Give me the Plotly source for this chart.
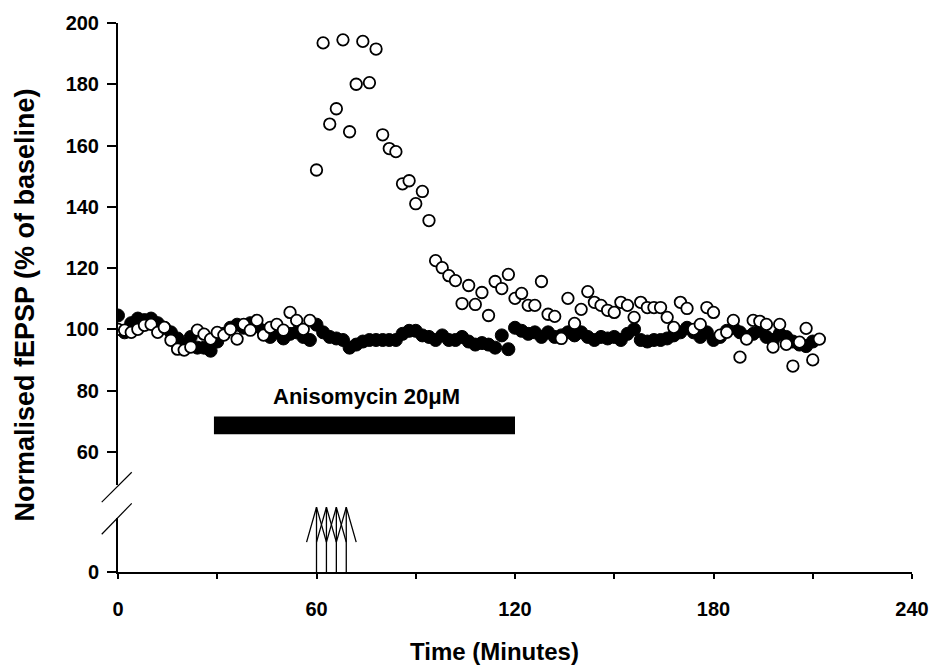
import plotly.graph_objects as go

# ---------------- data ----------------
time_ctrl = list(range(0, 212, 2))
fepsp_ctrl = [104.5, 99, 102, 103.5, 103, 103.5, 102, 100.5, 99, 97,
              95, 97.5, 94, 94, 93, 96, 98.5, 100.5, 101.5, 100.5,
              102, 101, 99.5, 97.5, 99, 97, 98.5, 99, 97.5, 96.5,
              101.5, 99, 97.5, 97, 96.5, 94, 95, 96, 96.5, 96.5,
              96.5, 96.5, 96.5, 98.5, 99.5, 99.5, 98, 97.5, 96.5, 98,
              96.5, 96.5, 97.5, 96, 95, 95.5, 95, 94, 98, 93.5,
              100.5, 99.5, 98.5, 99, 97.5, 99, 97.5, 98, 99, 98,
              99, 97.5, 96.5, 97.5, 97, 97.5, 96.5, 98.5, 100, 96.5,
              96, 96.5, 96.5, 97, 98, 99, 100.5, 99, 97.5, 99,
              96.5, 97.5, 99.5, 100.5, 99, 97.5, 98.5, 99.5, 97.5, 96.5,
              98.5, 97.5, 96, 95, 94.5, 96]

time_tet = list(range(0, 214, 2))
fepsp_tet = [100, 99.7, 99, 100, 101.3, 101.6, 99, 100.6, 96.4, 93.5,
             93.2, 94.2, 99.7, 98.4, 96.8, 99, 98.1, 100, 96.8, 101.6,
             99.7, 102.9, 98.1, 100.6, 101.6, 99.7, 105.5, 102.9, 100, 102.9,
             152, 193.5, 167, 172, 194.5, 164.5, 180, 194, 180.5, 191.5,
             163.5, 159, 158, 147.5, 148.5, 141, 145, 135.5, 122.4, 120.1,
             117.5, 115.9, 108.4, 114.3, 108.1, 112, 104.5, 115.6, 113.3, 117.9,
             110.1, 111.7, 107.8, 107.8, 115.6, 104.9, 104.2, 97, 110.1, 101.9,
             106.5, 112.3, 108.8, 107.8, 106.2, 105.5, 108.8, 107.8, 103.9, 108.8,
             107.1, 107.1, 107.1, 103.9, 100.6, 108.8, 106.8, 100, 101.6, 107.1,
             105.5, 98.1, 99, 102.9, 90.9, 96.8, 102.9, 102.6, 101.6, 94.2,
             101.6, 95.1, 88, 95.8, 100.3, 90, 96.8]

stim_times = [60, 63, 66, 69]
drug_label = "Anisomycin 20μM"
drug_start = 29
drug_end = 120

x_tickvals = [0, 30, 60, 90, 120, 150, 180, 210, 240]
x_ticktext = ["0", "", "60", "", "120", "", "180", "", "240"]
y_tickvals = [60, 80, 100, 120, 140, 160, 180, 200]

# ---------------- style ----------------
FONT = "Liberation Sans, Arial, sans-serif"
tickfont = dict(family=FONT, size=20, color="black", weight="bold")

fig = go.Figure()

# invisible trace so that the lower (broken) y-axis segment exists
fig.add_trace(go.Scatter(x=[0], y=[0], mode="markers", xaxis="x", yaxis="y2",
                         marker=dict(size=1, opacity=0), showlegend=False,
                         hoverinfo="skip"))

fig.add_trace(go.Scatter(
    x=time_ctrl, y=fepsp_ctrl, mode="markers", xaxis="x", yaxis="y",
    marker=dict(symbol="circle", size=13, color="black",
                line=dict(color="black", width=1)),
    showlegend=False))

fig.add_trace(go.Scatter(
    x=time_tet, y=fepsp_tet, mode="markers", xaxis="x", yaxis="y",
    marker=dict(symbol="circle", size=11.5, color="white",
                line=dict(color="black", width=1.8)),
    showlegend=False))

# tetanus arrows (shaft + long thin arrow head)
tip, wing, spread = 21.7, 10, 3
ax_x, ax_y = [], []
for t in stim_times:
    ax_x += [t, t, None, t - spread, t, t + spread, None]
    ax_y += [0, tip, None, wing, tip, wing, None]
fig.add_trace(go.Scatter(
    x=ax_x, y=ax_y, mode="lines", xaxis="x", yaxis="y3",
    line=dict(color="black", width=1.3), showlegend=False,
    hoverinfo="skip"))

# drug application bar
fig.add_shape(type="rect", xref="x", yref="y", x0=drug_start, x1=drug_end,
              y0=65.7, y1=71.5, fillcolor="black", line=dict(width=0))
fig.add_annotation(x=(drug_start + drug_end) / 2 + 0.5, y=78, xref="x", yref="y",
                   text=drug_label, showarrow=False,
                   font=dict(family=FONT, size=22, color="black", weight="bold"))

# axis break marks
for (x0, y0, x1, y1) in [(-0.0205, 0.1274, 0.0173, 0.1817),
                         (-0.0205, 0.0688, 0.0173, 0.1250)]:
    fig.add_shape(type="line", xref="paper", yref="paper",
                  x0=x0, y0=y0, x1=x1, y1=y1,
                  line=dict(color="black", width=1.2))

# axis titles
fig.add_annotation(x=-0.117, y=0.4855, xref="paper", yref="paper",
                   text="Normalised fEPSP (% of baseline)", textangle=-90,
                   showarrow=False, xanchor="center", yanchor="middle",
                   font=dict(family=FONT, size=27, color="black", weight="bold"))
fig.add_annotation(x=0.4736, y=-0.145, xref="paper", yref="paper",
                   text="Time (Minutes)", showarrow=False,
                   xanchor="center", yanchor="middle",
                   font=dict(family=FONT, size=24, color="black", weight="bold"))

fig.update_layout(
    width=943, height=668,
    margin=dict(l=118, r=31, t=20, b=96),
    paper_bgcolor="white", plot_bgcolor="white",
    xaxis=dict(range=[0, 240], tickvals=x_tickvals, ticktext=x_ticktext,
               ticks="outside", ticklen=5, tickwidth=2, tickcolor="black",
               showline=True, linewidth=2, linecolor="black",
               showgrid=False, zeroline=False, anchor="y2",
               tickfont=tickfont, ticklabelstandoff=13),
    yaxis=dict(domain=[0.1576, 1], range=[49, 200], tickvals=y_tickvals,
               ticks="outside", ticklen=9, tickwidth=2, tickcolor="black",
               showline=True, linewidth=2, linecolor="black",
               showgrid=False, zeroline=False, anchor="x",
               tickfont=tickfont, ticklabelstandoff=4),
    yaxis2=dict(domain=[0, 0.0978], range=[0, 10], tickvals=[0],
                ticks="outside", ticklen=9, tickwidth=2, tickcolor="black",
                showline=True, linewidth=2, linecolor="black",
                showgrid=False, zeroline=False, anchor="x",
                tickfont=tickfont, ticklabelstandoff=4),
    yaxis3=dict(domain=[0, 0.125], range=[0, 23], visible=False, anchor="x"),
)

fig.write_html("out.html")
